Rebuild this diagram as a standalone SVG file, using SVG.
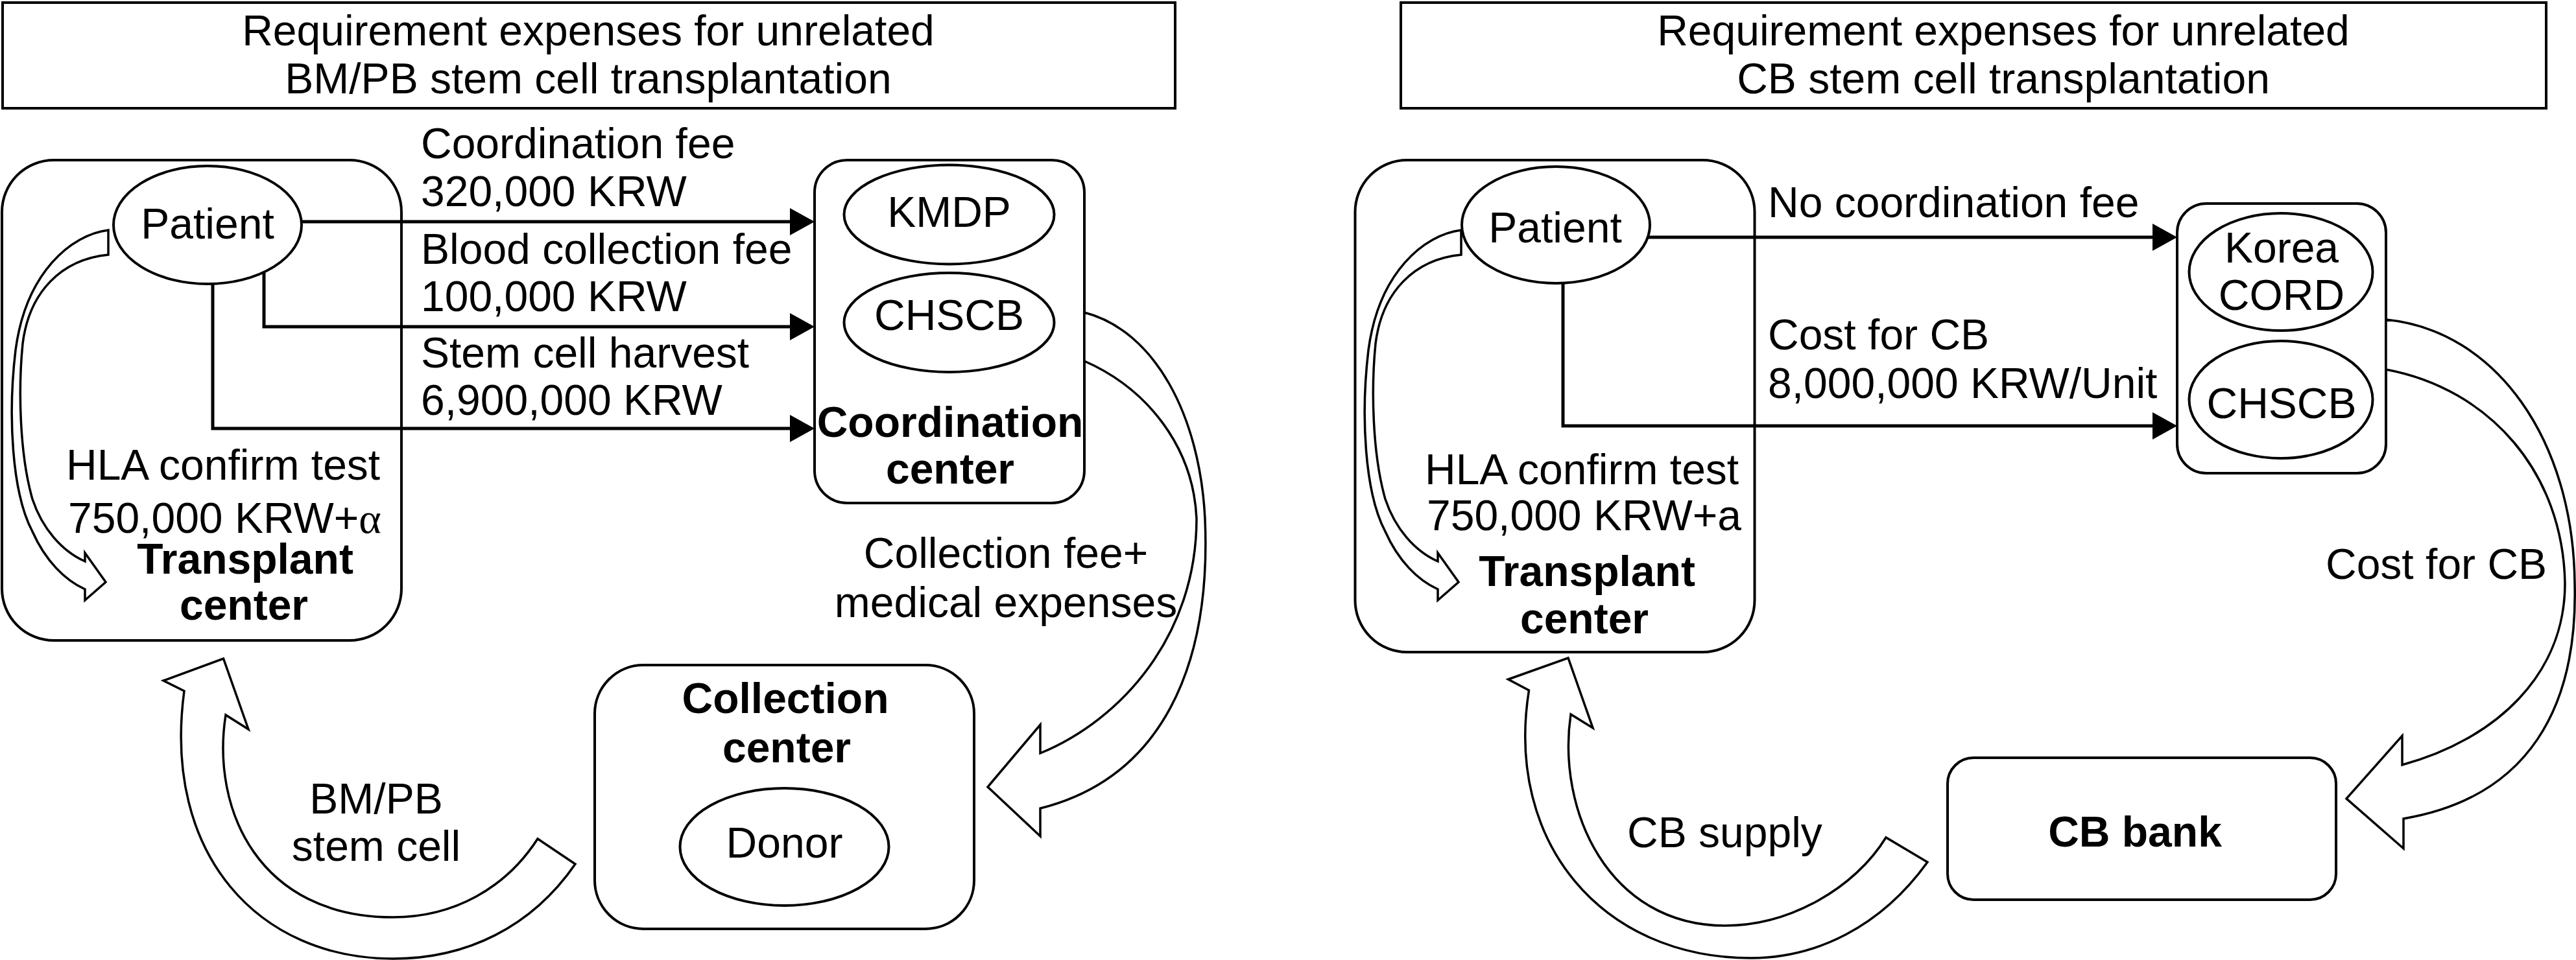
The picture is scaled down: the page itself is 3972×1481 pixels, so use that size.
<svg xmlns="http://www.w3.org/2000/svg" width="3972" height="1481" viewBox="0 0 3972 1481">
<defs>
<style>
text{font-family:"Liberation Sans",Arial,sans-serif;font-size:66px;fill:#000}
.b{font-weight:bold}
.m{text-anchor:middle}
.box{fill:none;stroke:#000;stroke-width:4}
.ell{fill:#fff;stroke:#000;stroke-width:4}
.con{fill:none;stroke:#000;stroke-width:5}
.hol{fill:#fff;stroke:#000;stroke-width:3.5;stroke-linejoin:miter}
</style>
<marker id="ah" markerUnits="userSpaceOnUse" markerWidth="40" markerHeight="44" refX="0" refY="21" orient="auto">
<path d="M0,0 L38,21 L0,42 Z" fill="#000"/>
</marker>
<path id="selfloop" d="M167,355 C110,362 40,420 24,540 C12,640 18,760 50,820 C70,865 100,895 131,909 L131,926 L163,898 L131,853 L131,866 C95,850 65,815 50,770 C30,700 28,600 35,530 C45,450 95,400 167,393 Z"/>
</defs>

<g id="title-left">
<rect class="box" x="4" y="4" width="1808" height="163"/>
<text class="m" x="907" y="70">Requirement expenses for unrelated</text>
<text class="m" x="907" y="144">BM/PB stem cell transplantation</text>
</g>
<g id="title-right">
<rect class="box" x="2160" y="4" width="1766" height="163"/>
<text class="m" x="3089" y="70">Requirement expenses for unrelated</text>
<text class="m" x="3089" y="144">CB stem cell transplantation</text>
</g>

<g id="transplant-left">
<rect class="box" x="3" y="247" width="616" height="741" rx="80" ry="80"/>
<text x="102" y="740">HLA confirm test</text>
<text x="105" y="822">750,000 KRW+<tspan font-family="Liberation Serif, serif">α</tspan></text>
<text class="b m" x="378" y="885">Transplant</text>
<text class="b m" x="376" y="956">center</text>
</g>
<g id="patient-left">
<ellipse class="ell" cx="320" cy="347" rx="145" ry="91"/>
<text class="m" x="320" y="368">Patient</text>
</g>
<g id="coordination-left">
<rect class="box" x="1256" y="247" width="416" height="529" rx="50" ry="50"/>
<text class="b m" x="1465" y="674">Coordination</text>
<text class="b m" x="1465" y="746">center</text>
</g>
<g id="kmdp">
<ellipse class="ell" cx="1463.5" cy="331" rx="162" ry="76.5"/>
<text class="m" x="1463.5" y="350">KMDP</text>
</g>
<g id="chscb-left">
<ellipse class="ell" cx="1463.5" cy="497.5" rx="162" ry="76.5"/>
<text class="m" x="1463.5" y="509">CHSCB</text>
</g>
<g id="collection-center">
<rect class="box" x="917" y="1026" width="585" height="407" rx="75" ry="75"/>
<text class="b m" x="1211" y="1100">Collection</text>
<text class="b m" x="1213" y="1176">center</text>
</g>
<g id="donor">
<ellipse class="ell" cx="1209.5" cy="1306.5" rx="161" ry="90.5"/>
<text class="m" x="1209.5" y="1323">Donor</text>
</g>

<g id="transplant-right">
<rect class="box" x="2089.5" y="247" width="616" height="759" rx="80" ry="80"/>
<text x="2197" y="747">HLA confirm test</text>
<text x="2200" y="818">750,000 KRW+a</text>
<text class="b m" x="2447" y="904">Transplant</text>
<text class="b m" x="2443" y="977">center</text>
</g>
<g id="patient-right">
<ellipse class="ell" cx="2399" cy="347" rx="145" ry="90"/>
<text class="m" x="2398" y="374">Patient</text>
</g>
<g id="cord-center">
<rect class="box" x="3357" y="314" width="322" height="416" rx="45" ry="45"/>
</g>
<g id="korea-cord">
<ellipse class="ell" cx="3517" cy="419.5" rx="141.5" ry="90.5"/>
<text class="m" x="3518" y="405">Korea</text>
<text class="m" x="3518" y="478">CORD</text>
</g>
<g id="chscb-right">
<ellipse class="ell" cx="3517" cy="616.5" rx="141.5" ry="90.5"/>
<text class="m" x="3518" y="645">CHSCB</text>
</g>
<g id="cb-bank">
<rect class="box" x="3003" y="1169" width="599" height="219" rx="40" ry="40"/>
<text class="b m" x="3292" y="1306">CB bank</text>
</g>

<g id="connectors">
<path class="con" d="M465,342 H1218" marker-end="url(#ah)"/>
<path class="con" d="M407,420 V504 H1218" marker-end="url(#ah)"/>
<path class="con" d="M328,438 V661 H1218" marker-end="url(#ah)"/>
<path class="con" d="M2541,366 H3319" marker-end="url(#ah)"/>
<path class="con" d="M2410,437 V657 H3319" marker-end="url(#ah)"/>
<use href="#selfloop" class="hol"/>
<use href="#selfloop" class="hol" transform="translate(2086,0)"/>
<path class="hol" d="M1672,482 C1780,510 1850,640 1858,800 C1868,1030 1790,1200 1604,1247 L1604,1290 L1523,1214 L1604,1118 L1604,1162 C1730,1110 1845,980 1845,800 C1840,690 1770,600 1672,557 Z"/>
<path class="hol" d="M252,1050 L344.5,1016 L383,1125 L348,1103 C325,1250 400,1415 606,1415 C700,1415 780,1370 829,1294 L887,1333 C820,1430 720,1479 606,1479 C400,1479 250,1320 284,1066 Z"/>
<path class="hol" d="M2325.6,1048 L2418,1015 L2456,1123 L2422,1102 C2400,1250 2480,1428 2660,1428 C2760,1428 2860,1370 2908,1292 L2972,1330 C2900,1430 2800,1478 2700,1478 C2470,1478 2320,1300 2357.5,1065 Z"/>
<path class="hol" d="M3679,493 C3850,510 3968,680 3970,900 C3975,1090 3900,1230 3706,1263 L3706,1309 L3618,1232 L3704,1135 L3704,1180 C3850,1140 3955,1040 3955,900 C3952,730 3840,600 3679,570 Z"/>
<text x="649" y="244">Coordination fee</text>
<text x="649" y="318">320,000 KRW</text>
<text x="649" y="407">Blood collection fee</text>
<text x="649" y="480">100,000 KRW</text>
<text x="649" y="567">Stem cell harvest</text>
<text x="649" y="640">6,900,000 KRW</text>
<text class="m" x="1551" y="876">Collection fee+</text>
<text class="m" x="1551" y="952">medical expenses</text>
<text class="m" x="580" y="1255">BM/PB</text>
<text class="m" x="580" y="1328">stem cell</text>
<text x="2726" y="335">No coordination fee</text>
<text x="2726" y="539">Cost for CB</text>
<text x="2726" y="614">8,000,000 KRW/Unit</text>
<text x="3586" y="893">Cost for CB</text>
<text x="2509" y="1307">CB supply</text>
</g>
</svg>
